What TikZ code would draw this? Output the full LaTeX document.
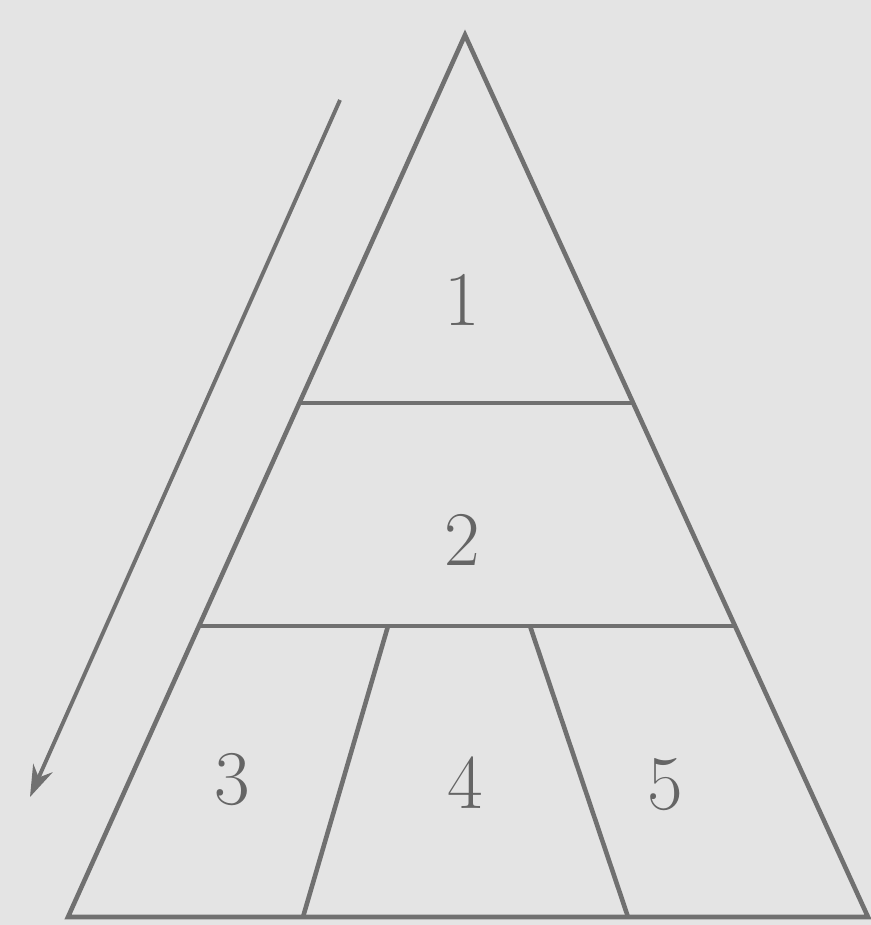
\documentclass[tikz,border=0pt]{standalone}
\usepackage{xcolor}
\usetikzlibrary{arrows.meta,calc}
\definecolor{paper}{HTML}{E4E4E4}
\definecolor{ink}{HTML}{707070}
\begin{document}
\begin{tikzpicture}[
    x=0.01cm,
    y=-0.01cm,
    edge/.style={
        draw,
        color=ink,
        line width=1.3pt
    },
    flow/.style={
        draw,
        -{Stealth[length=9pt,width=6pt]},
        color=ink,
        line width=1.1pt
    },
    level/.style={
        color=ink!90!black,
        font=\fontsize{22}{22}\selectfont
    }
]

    % --- Background ---
    \fill [paper] (0,0) rectangle (871,925);
    \useasboundingbox (0,0) rectangle (871,925);

    % --- Outline of the pyramid ---
    \coordinate (apex) at (465,35);
    \coordinate (bl) at (68,917);
    \coordinate (br) at (868,917);
    \path [edge] (bl) -- (apex) -- (br) -- cycle;

    % --- Horizontal bands ---
    \coordinate (l1) at ($(apex)!0.417!(bl)$);
    \coordinate (r1) at ($(apex)!0.417!(br)$);
    \coordinate (l2) at ($(apex)!0.670!(bl)$);
    \coordinate (r2) at ($(apex)!0.670!(br)$);
    \path [edge] (l1) -- (r1);
    \path [edge] (l2) -- (r2);

    % --- Bottom band split in three ---
    \coordinate (d1t) at (388,626);
    \coordinate (d1b) at (303,917);
    \coordinate (d2t) at (530,626);
    \coordinate (d2b) at (628,917);
    \path [edge] (d1t) -- (d1b);
    \path [edge] (d2t) -- (d2b);

    % --- Labels ---
    \node [level] (one) at (462,300) {1};
    \node [level] (two) at (462,540) {2};
    \node [level] (three) at (232,780) {3};
    \node [level] (four) at (465,783) {4};
    \node [level] (five) at (665,785) {5};

    % --- Arrow along the left side ---
    \coordinate (astart) at (340,100);
    \coordinate (aend) at (30,797);
    \path [flow] (astart) -- (aend);

\end{tikzpicture}
\end{document}
